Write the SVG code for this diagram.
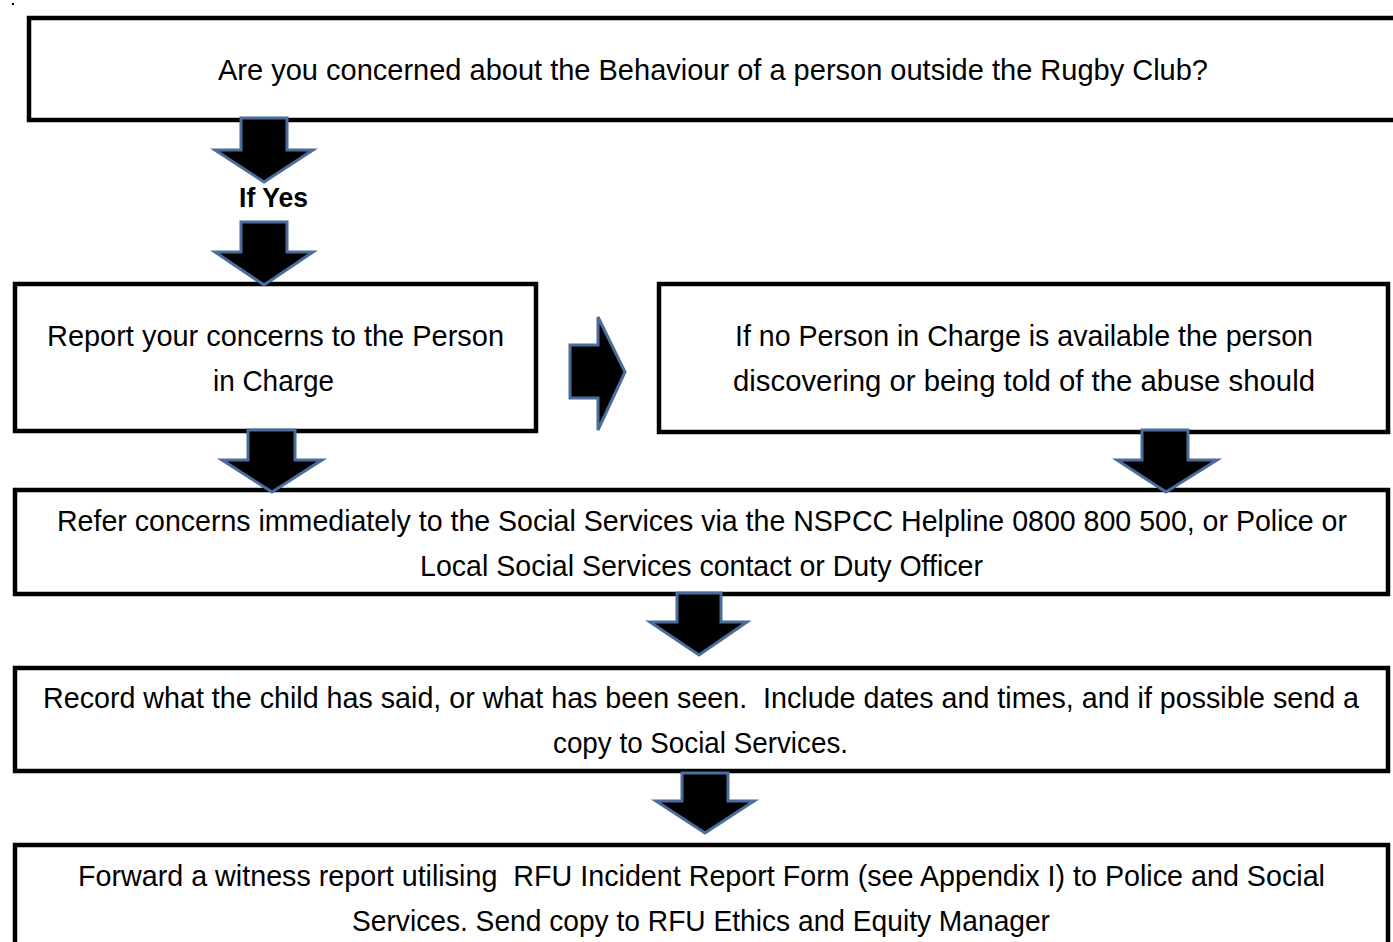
<svg xmlns="http://www.w3.org/2000/svg" width="1393" height="942" viewBox="0 0 1393 942">
<style>
.box{fill:#fff;stroke:#000;stroke-width:4.5}
.t{font-family:"Liberation Sans",Arial,sans-serif;font-size:29px;fill:#000;white-space:pre}
.b{font-family:"Liberation Sans",Arial,sans-serif;font-size:28px;font-weight:bold;fill:#000}
.arr{fill:#000;stroke:#4a6d9c;stroke-width:3;stroke-linejoin:miter}
</style>
<rect width="1393" height="942" fill="#fff"/>
<circle cx="13" cy="4" r="1.2" fill="#000"/>
<g id="n1">
<rect class="box" x="29" y="18" width="1380" height="102"/>
<text class="t" x="218" y="80" textLength="990" lengthAdjust="spacingAndGlyphs">Are you concerned about the Behaviour of a person outside the Rugby Club?</text>
</g>
<g id="n2">
<rect class="box" x="15" y="284" width="521" height="147"/>
<text class="t" x="47" y="346" textLength="457" lengthAdjust="spacingAndGlyphs">Report your concerns to the Person</text>
<text class="t" x="213" y="391" textLength="121" lengthAdjust="spacingAndGlyphs">in Charge</text>
</g>
<g id="n3">
<rect class="box" x="659" y="284" width="729" height="148"/>
<text class="t" x="735" y="346" textLength="578" lengthAdjust="spacingAndGlyphs">If no Person in Charge is available the person</text>
<text class="t" x="733" y="391" textLength="582" lengthAdjust="spacingAndGlyphs">discovering or being told of the abuse should</text>
</g>
<g id="n4">
<rect class="box" x="15" y="490" width="1373" height="104"/>
<text class="t" x="57" y="531" textLength="1290" lengthAdjust="spacingAndGlyphs">Refer concerns immediately to the Social Services via the NSPCC Helpline 0800 800 500, or Police or</text>
<text class="t" x="420" y="576" textLength="563" lengthAdjust="spacingAndGlyphs">Local Social Services contact or Duty Officer</text>
</g>
<g id="n5">
<rect class="box" x="15" y="668" width="1373" height="103"/>
<text class="t" x="43" y="708" textLength="1316" lengthAdjust="spacingAndGlyphs" xml:space="preserve">Record what the child has said, or what has been seen.  Include dates and times, and if possible send a</text>
<text class="t" x="553" y="753" textLength="295" lengthAdjust="spacingAndGlyphs">copy to Social Services.</text>
</g>
<g id="n6">
<rect class="box" x="15" y="845" width="1373" height="120"/>
<text class="t" x="78" y="886" textLength="1247" lengthAdjust="spacingAndGlyphs" xml:space="preserve">Forward a witness report utilising  RFU Incident Report Form (see Appendix I) to Police and Social</text>
<text class="t" x="352" y="931" textLength="698" lengthAdjust="spacingAndGlyphs">Services. Send copy to RFU Ethics and Equity Manager</text>
</g>
<g id="connectors">
<polygon class="arr" points="241,118 287,118 287,150 313,150 264,182 215,150 241,150"/>
<text class="b" x="239" y="207" textLength="69" lengthAdjust="spacingAndGlyphs">If Yes</text>
<polygon class="arr" points="241,222 287,222 287,252 313,252 264,285 215,252 241,252"/>
<polygon class="arr" points="248,430 295,430 295,460 322,460 272,492 222,460 248,460"/>
<polygon class="arr" points="1142,430 1188,430 1188,460 1217,460 1166,492 1117,460 1142,460"/>
<polygon class="arr" points="677,593 721,593 721,622 747,622 699,655 650,622 677,622"/>
<polygon class="arr" points="682,773 728,773 728,801 754,801 705,833 656,801 682,801"/>
<polygon class="arr" points="570,345 598,345 598,317 625,372 598,430 598,398 570,398"/>
</g>
</svg>
